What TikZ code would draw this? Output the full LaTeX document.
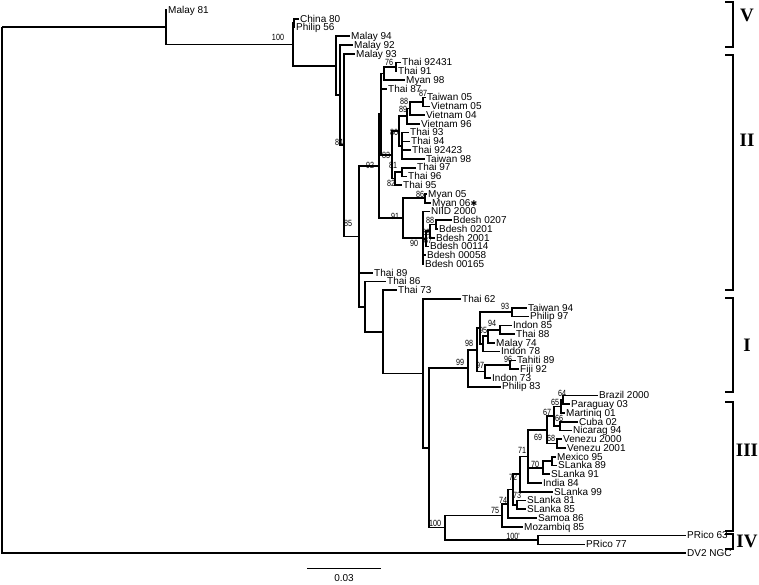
\documentclass[tikz,border=0pt]{standalone}
\usepackage{fontspec}
\setmainfont{Liberation Sans}
\newfontfamily\bootfamily{Liberation Sans}[FakeStretch=0.8]
\newfontfamily\cladefamily{Liberation Serif}
\newfontfamily\starfamily{DejaVu Sans}
\begin{document}
\begin{tikzpicture}[x=1pt, y=-8.76pt,
    branch/.style={line width=1.7pt},
    leaf/.style={anchor=west, inner sep=1pt, font=\fontsize{10}{10}\selectfont,
                 text height=7.2pt, text depth=0.6pt},
    boot/.style={inner sep=0pt, font=\bootfamily\fontsize{9}{9}\selectfont},
    cladetag/.style={font=\cladefamily\bfseries\fontsize{19}{19}\selectfont}]
  % one row per strain: x is the tip of its branch (px), row gives y
  \useasboundingbox (0,-0.1416) rectangle (759,66.525);

  % --- leaves, top to bottom ---
  \foreach \n/\x/\t [count=\r] in {
      my81/167/Malay 81, cn80/299/China 80, ph56/295/Philip 56,
      my94/350/Malay 94, my92/353/Malay 92, my93/355/Malay 93,
      th92431/401/Thai 92431, th91/397/Thai 91, mm98/405/Myan 98, th87/387/Thai 87,
      tw05/426/Taiwan 05, vn05/430/Vietnam 05, vn04/425/Vietnam 04, vn96/420/Vietnam 96,
      th93/409/Thai 93, th94/410/Thai 94, th92423/411/Thai 92423, tw98/425/Taiwan 98,
      th97/416/Thai 97, th96/407/Thai 96, th95/402/Thai 95,
      mm05/427/Myan 05, mm06/431/Myan 06{\starfamily\fontsize{8}{8}\selectfont ✱},
      niid/430/NIID 2000,
      bd0207/452/Bdesh 0207, bd0201/438/Bdesh 0201, bd2001/435/Bdesh 2001,
      bd00114/429/Bdesh 00114, bd00058/426/Bdesh 00058, bd00165/424/Bdesh 00165,
      th89/373/Thai 89, th86/386/Thai 86, th73/397/Thai 73, th62/461/Thai 62,
      tw94/527/Taiwan 94, ph97/529/Philip 97, id85/512/Indon 85, th88/515/Thai 88,
      my74/495/Malay 74, id78/500/Indon 78, tah89/516/Tahiti 89, fj92/519/Fiji 92,
      id73/491/Indon 73, ph83/501/Philip 83,
      br2000/598/Brazil 2000, py03/570/Paraguay 03, mq01/565/Martiniq 01,
      cu02/578/Cuba 02, ni94/572/Nicarag 94, ve2000/562/Venezu 2000, ve2001/566/Venezu 2001,
      mx95/556/Mexico 95, sl89/557/SLanka 89, sl91/550/SLanka 91, in84/542/India 84,
      sl99/553/SLanka 99, sl81/526/SLanka 81, sl85/526/SLanka 85, sm86/537/Samoa 86,
      mz85/523/Mozambiq 85, pr63/686/PRico 63, pr77/585/PRico 77, dv2/686/DV2 NGC}
    \node[leaf] (\n) at (\x,\r) {\t};

  % --- internal nodes (row = midpoint of outer children) ---
  \foreach \n/\x/\r in {
      root/2/2.96, nA/166/2.96, nB/293/4.93, nCP/294/2.5, nC/336/7.36, nD/340/10.71,
      nE/344/16.42, nJ/359/26.85, nX/379/18.82, nU/381/12.89, nT2/384/8.25, nT1/396/7.5,
      nW/392/17.53, nY/399/14.81, nV3/407/13.125, nV2/410/12.25, nV1/423/11.5,
      nTh/402/16.5, nS2/395/20.25, nS1/402/19.5, nM/403/24.75, nMy/425/22.5,
      nBd/423/27, nP1/426/27.125, nP2/430/26.25, nP3/436/25.5,
      nI/365/34.875, nH/383/37.75, nF/423/42.5, nG/429/50.99,
      nQ/468/41.89, nK8/477/39.78, nK5/480/37.31, nK1/512/35.5, nK4/483/39.125,
      nK3/488/38.25, nK2/500/37.5, nK7/485/42.25, nK6/510/41.5,
      nZ/445/60.09, nZ1/502/58.69, nZ2/508/57.37, nZ3/513/55.74, nL10/520/53.99,
      nL9/528/51.97, nL5/547/48.94, nL3/554/47.375, nL2/561/46.25, nL1/563/45.5,
      nL4/560/48.5, nL6/557/50.5, nL8/543/53.25, nL7/552/52.5, nL11/517/57.5,
      nPR/538/61.5}
    \coordinate (\n) at (\x,\r);

  % --- branches ---
  \foreach \p/\c in {
      root/nA, root/dv2.west, nA/my81.west, nA/nB, nB/nCP, nB/nC,
      nCP/cn80.west, nCP/ph56.west, nC/my94.west, nC/nD, nD/my92.west, nD/nE,
      nE/my93.west, nE/nJ, nJ/nX, nJ/th89.west, nJ/nI,
      nX/nU, nX/nM, nU/nT2, nU/th87.west, nU/nW,
      nT2/nT1, nT2/mm98.west, nT1/th92431.west, nT1/th91.west,
      nW/nY, nW/nS2, nY/nV3, nY/nTh, nV3/nV2, nV3/vn96.west, nV2/nV1, nV2/vn04.west,
      nV1/tw05.west, nV1/vn05.west,
      nTh/th93.west, nTh/th94.west, nTh/th92423.west, nTh/tw98.west,
      nS2/nS1, nS2/th95.west, nS1/th97.west, nS1/th96.west,
      nM/nMy, nM/nBd, nMy/mm05.west, nMy/mm06.west,
      nBd/niid.west, nBd/nP1, nBd/bd00058.west, nBd/bd00165.west,
      nP1/nP2, nP1/bd00114.west, nP2/nP3, nP2/bd2001.west,
      nP3/bd0207.west, nP3/bd0201.west,
      nI/th86.west, nI/nH, nH/th73.west, nH/nF, nF/th62.west, nF/nG,
      nG/nQ, nG/nZ, nQ/nK8, nQ/ph83.west, nK8/nK5, nK8/nK7,
      nK5/nK1, nK5/nK4, nK1/tw94.west, nK1/ph97.west,
      nK4/nK3, nK4/id78.west, nK3/nK2, nK3/my74.west, nK2/id85.west, nK2/th88.west,
      nK7/nK6, nK7/id73.west, nK6/tah89.west, nK6/fj92.west,
      nZ/nZ1, nZ/nPR, nZ1/nZ2, nZ1/mz85.west, nZ2/nZ3, nZ2/sm86.west,
      nZ3/nL10, nZ3/nL11, nL10/nL9, nL10/sl99.west,
      nL9/nL5, nL9/nL8, nL9/in84.west, nL5/nL3, nL5/nL6,
      nL3/nL2, nL3/nL4, nL2/nL1, nL2/mq01.west, nL1/br2000.west, nL1/py03.west,
      nL4/cu02.west, nL4/ni94.west, nL6/ve2000.west, nL6/ve2001.west,
      nL8/nL7, nL8/sl91.west, nL7/mx95.west, nL7/sl89.west,
      nL11/sl81.west, nL11/sl85.west, nPR/pr63.west, nPR/pr77.west}
    \draw[branch] (\p) |- (\c);

  % --- bootstrap values ---
  \foreach \x/\r/\v [count=\k] in {
      278/4.08/100, 389/6.94/76, 423/10.5/87, 404/11.39/88, 403/12.30/89,
      394/14.93/80, 386/17.55/83, 393/18.69/81, 391/20.75/82, 370/18.69/92,
      339/16.07/84, 348/25.31/85, 420/22.02/86, 395/24.52/91, 430/25.0/88,
      426/26.34/89, 428/27.26/87, 414/27.60/90,
      505/34.79/93, 492/36.73/94, 483/37.53/95, 469/39.01/98, 508/40.9/96,
      480/41.53/97, 460/41.18/99,
      562/44.72/64, 555/45.75/65, 547/46.89/67, 559/47.58/66, 538/49.74/69,
      551/49.86/68, 522/51.23/71, 535/52.83/70, 513/54.31/72, 517/56.36/73,
      503/56.94/74, 495/58.08/75, 435/59.56/100, 513/61.05/100'}
    \node[boot] (bs\k) at (\x,\r) {\v};

  % --- genotype brackets ---
  \foreach \a/\b/\m/\lab [count=\k] in {
      0.087/5.22/1.57/V, 6.14/32.96/15.84/II, 33.88/44.61/39.24/I,
      45.75/60.47/51.23/III, 60.82/62.53/61.62/IV}{
    \draw[branch] (725,\a) -- (733,\a) -- (733,\b) -- (725,\b);
    \node[cladetag] (type\k) at (747,\m) {\lab};
  }

  % --- scale bar ---
  \coordinate (barL) at (307,64.7);
  \coordinate (barR) at (381,64.7);
  \draw[line width=1pt] (barL) -- (barR);
  \node[font=\fontsize{10}{10}\selectfont] (barlab) at (344,65.9) {0.03};
\end{tikzpicture}
\end{document}
